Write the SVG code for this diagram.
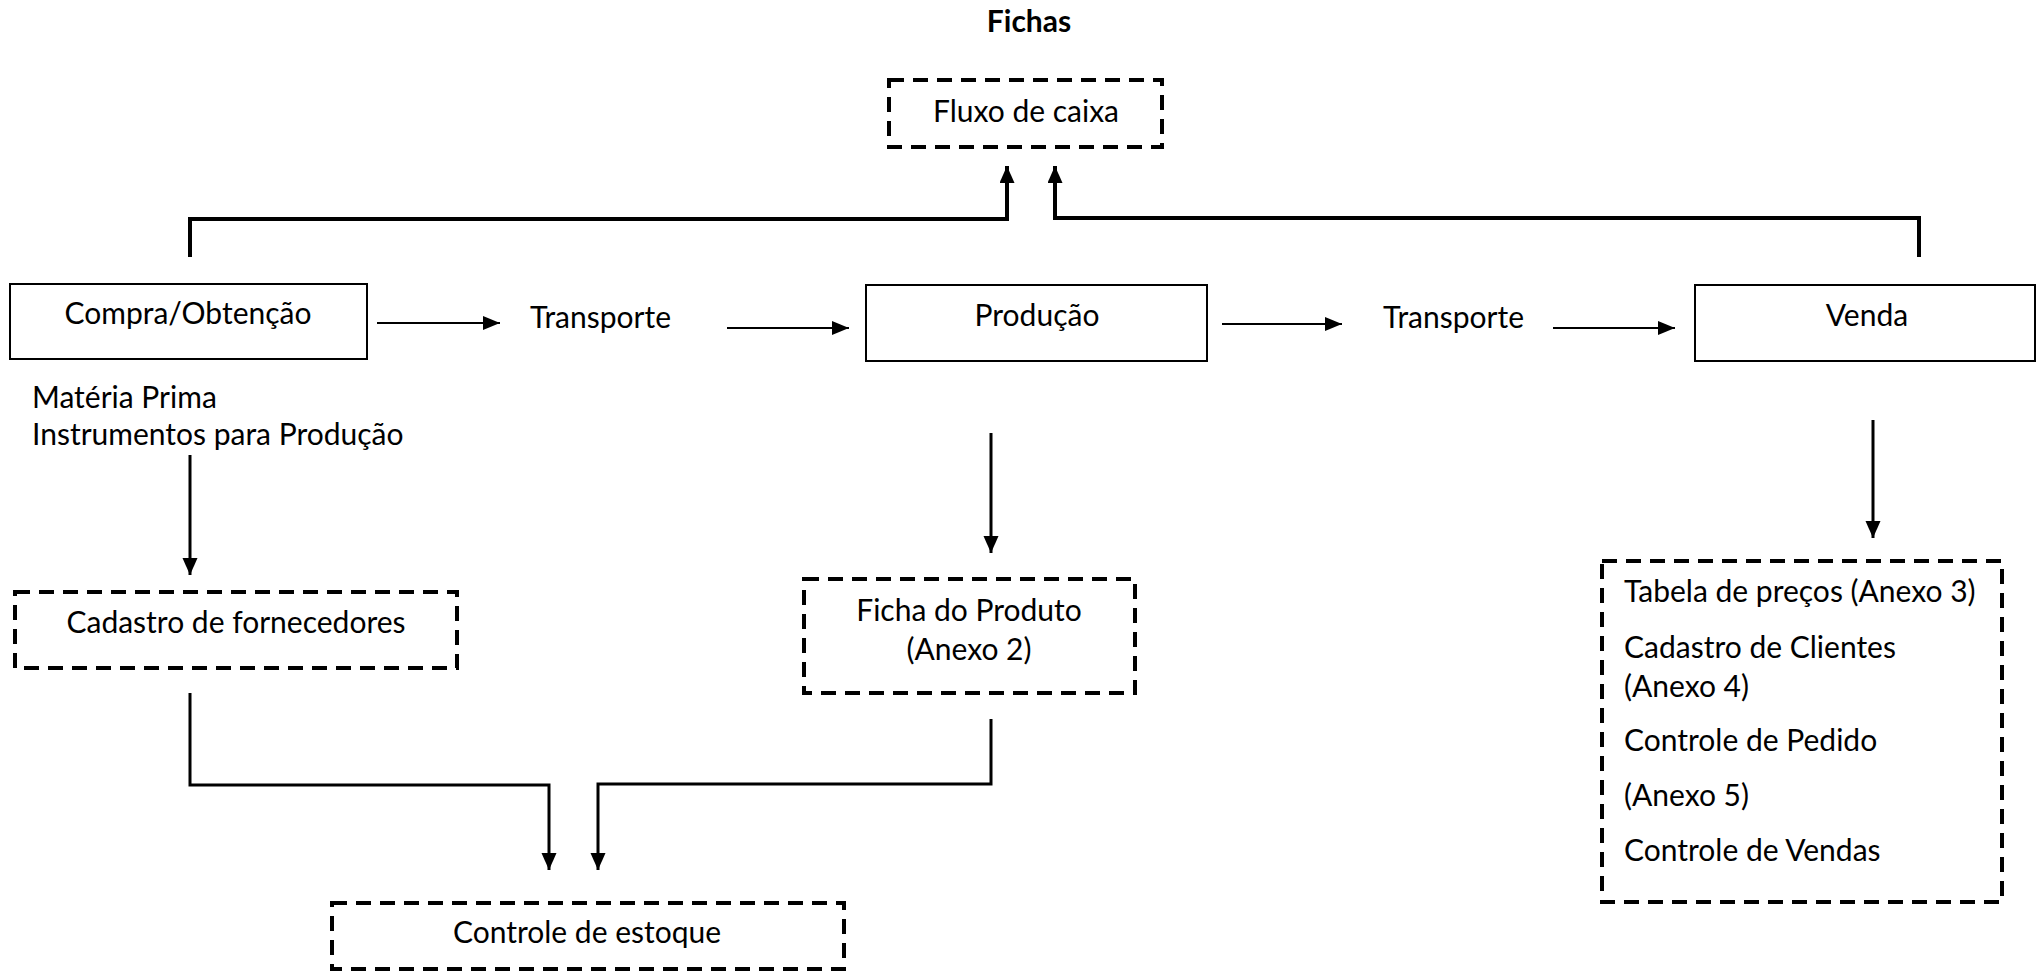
<svg xmlns="http://www.w3.org/2000/svg" width="2038" height="971" viewBox="0 0 2038 971">
<style>
text{font-family:Lato,"Liberation Sans",sans-serif;font-size:30px;fill:#000}
.b{font-weight:bold}
.m{text-anchor:middle}
.box{fill:#fff;stroke:#000;stroke-width:2}
.dash{fill:#fff;stroke:#000;stroke-width:4;stroke-dasharray:15 9}
.c{fill:none;stroke:#000;stroke-width:2}
.c3{fill:none;stroke:#000;stroke-width:3}
.c4{fill:none;stroke:#000;stroke-width:4}
</style>
<defs>
<marker id="ah" markerUnits="userSpaceOnUse" markerWidth="20" markerHeight="16" refX="17" refY="7" orient="auto">
<path d="M0,0 L17,7 L0,14 Z" fill="#000"/>
</marker>
<marker id="av" markerUnits="userSpaceOnUse" markerWidth="20" markerHeight="18" refX="17" refY="7.5" orient="auto">
<path d="M0,0 L17,7.5 L0,15 Z" fill="#000"/>
</marker>
</defs>
<text id="title" class="b m" x="1029" y="32">Fichas</text>
<g id="fluxo">
<rect class="dash" x="889" y="80" width="273" height="67"/>
<text class="m" x="1026" y="122">Fluxo de caixa</text>
</g>
<g id="compra">
<rect class="box" x="10" y="284" width="357" height="75"/>
<text class="m" x="188" y="324">Compra/Obtenção</text>
</g>
<g id="transporte1">
<text x="530" y="328">Transporte</text>
</g>
<g id="producao">
<rect class="box" x="866" y="285" width="341" height="76"/>
<text class="m" x="1037" y="326">Produção</text>
</g>
<g id="transporte2">
<text x="1383" y="328">Transporte</text>
</g>
<g id="venda">
<rect class="box" x="1695" y="285" width="340" height="76"/>
<text class="m" x="1867" y="326">Venda</text>
</g>
<g id="materia">
<text x="32" y="408">Matéria Prima</text>
<text x="32" y="445">Instrumentos para Produção</text>
</g>
<g id="cadastro">
<rect class="dash" x="15" y="592" width="442" height="76"/>
<text class="m" x="236" y="633">Cadastro de fornecedores</text>
</g>
<g id="ficha">
<rect class="dash" x="804" y="579" width="331" height="114"/>
<text class="m" x="969" y="621">Ficha do Produto</text>
<text class="m" x="969" y="660">(Anexo 2)</text>
</g>
<g id="estoque">
<rect class="dash" x="332" y="903" width="512" height="66"/>
<text class="m" x="587" y="943">Controle de estoque</text>
</g>
<g id="vendas-fichas">
<rect class="dash" x="1602" y="561" width="400" height="341"/>
<text x="1624" y="602">Tabela de preços (Anexo 3)</text>
<text x="1624" y="658">Cadastro de Clientes</text>
<text x="1624" y="697">(Anexo 4)</text>
<text x="1624" y="751">Controle de Pedido</text>
<text x="1624" y="806">(Anexo 5)</text>
<text x="1624" y="861">Controle de Vendas</text>
</g>
<g id="connectors">
<path class="c4" d="M190 257 V219 H1007 V166" marker-end="url(#av)"/>
<path class="c4" d="M1919 257 V218 H1055 V166" marker-end="url(#av)"/>
<path class="c" d="M377 323 H500" marker-end="url(#ah)"/>
<path class="c" d="M727 328 H849" marker-end="url(#ah)"/>
<path class="c" d="M1222 324 H1342" marker-end="url(#ah)"/>
<path class="c" d="M1553 328 H1675" marker-end="url(#ah)"/>
<path class="c3" d="M190 455 V575" marker-end="url(#av)"/>
<path class="c3" d="M991 433 V553" marker-end="url(#av)"/>
<path class="c3" d="M1873 420 V538" marker-end="url(#av)"/>
<path class="c3" d="M190 693 V785 H549 V870" marker-end="url(#av)"/>
<path class="c3" d="M991 719 V784 H598 V870" marker-end="url(#av)"/>
</g>
</svg>
